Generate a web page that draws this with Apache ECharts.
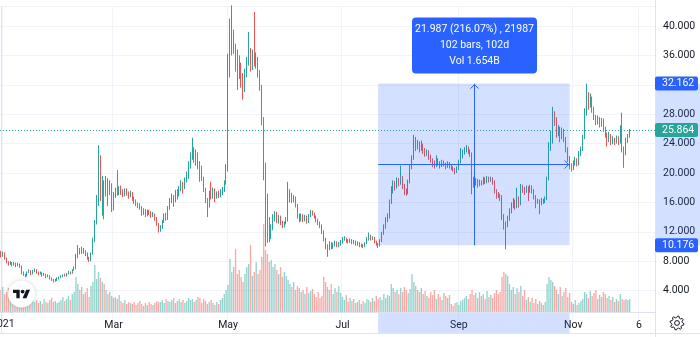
<!DOCTYPE html>
<html><head><meta charset="utf-8">
<script src="https://cdn.jsdelivr.net/npm/echarts@6/dist/echarts.min.js"></script>
<style>html,body{margin:0;padding:0;background:#fff}#c{width:700px;height:337px}</style>
</head><body><div id="c"></div>
<script>
// ---- data ----
const firstDate = [2020, 11, 31];   // Dec 31 2020 (UTC y, m0, d)
const axisDays = 349;               // category slots on the time axis (through mid Dec 2021)
const firstOpen = 9.0;
const closes = [
8.8,9.1,8.4,7.9,7.6,7.8,7.5,7.7,7.4,7.6,
7.3,6.4,6.2,6.0,6.5,6.7,6.3,6.6,6.8,6.5,
6.3,6.4,6.1,6.2,5.9,6.0,5.7,5.5,5.3,5.4,
5.6,5.8,5.9,6.1,6.0,6.3,6.5,6.4,6.8,7.0,
8.6,9.4,9.2,9.6,9.3,9.0,8.4,8.1,9.0,10.8,
13.2,16.0,21.8,17.0,18.5,17.2,19.0,17.8,18.2,15.2,
17.0,17.6,17.2,17.8,17.4,17.0,17.6,17.3,16.9,17.2,
16.5,16.2,15.8,15.6,15.3,14.5,14.9,14.3,14.8,14.6,
14.2,14.4,13.8,13.0,12.2,12.6,13.4,14.2,13.8,15.2,
16.2,16.8,16.2,17.4,17.0,17.8,18.4,18.0,19.0,19.5,
21.0,22.0,23.0,22.2,22.5,21.0,20.6,19.2,17.8,16.2,
15.5,17.2,16.8,17.6,16.8,17.2,16.9,17.4,17.6,18.6,
20.4,35.4,36.8,38.1,37.0,36.0,35.2,34.4,33.0,31.8,
33.5,35.0,36.2,34.5,36.0,35.0,35.3,33.5,31.8,27.0,
19.5,16.5,13.5,11.5,12.6,13.8,14.4,13.5,14.0,13.2,
12.8,13.2,13.6,16.5,17.0,16.4,16.6,15.6,14.2,13.6,
14.2,13.6,14.0,13.4,14.2,14.7,14.5,14.0,13.6,13.2,
12.8,12.0,11.0,10.0,9.8,10.4,9.9,10.2,10.5,10.1,
10.3,10.6,11.0,11.1,10.8,10.6,10.9,10.5,10.7,10.3,
10.5,10.1,10.2,10.0,10.4,11.0,11.5,11.0,11.2,10.6,
10.3,10.18,10.8,11.8,12.6,13.6,14.0,16.0,17.7,18.5,
18.2,19.0,18.6,19.4,18.2,17.6,17.3,18.8,20.8,22.0,
24.1,23.6,24.0,23.3,23.8,23.0,22.6,22.9,22.2,21.8,
21.5,21.0,21.9,21.4,21.0,21.5,21.2,20.9,21.4,21.0,
20.7,20.5,20.3,20.6,21.5,22.2,22.8,23.0,23.4,23.0,
22.6,19.2,18.6,19.0,18.4,18.8,18.6,19.2,18.8,19.3,
19.0,19.2,18.9,17.6,17.2,17.0,16.8,14.0,12.8,12.9,
13.8,14.8,15.6,16.2,15.4,16.6,15.8,18.2,17.8,17.6,
18.0,17.5,18.1,17.6,16.8,16.1,16.2,15.9,16.3,16.1,
16.5,19.2,23.5,24.2,27.4,27.2,25.4,26.0,25.0,25.8,
24.6,23.2,22.0,21.0,20.6,21.4,21.8,21.2,22.6,23.2,
24.8,28.2,30.0,29.2,30.1,28.6,27.6,27.0,27.4,26.6,
27.2,26.0,25.2,24.6,25.0,24.2,24.6,24.3,24.8,24.2,
26.2,23.2,22.8,24.5,25.0,25.864
];
const highs = [
9.4,9.3,9.2,8.5,8.0,8.0,7.9,7.9,7.8,7.8,
7.7,7.4,6.6,6.3,6.6,6.9,6.8,6.8,7.0,6.9,
6.6,6.6,6.5,6.4,6.3,6.2,6.1,5.8,5.6,5.6,
5.8,5.9,6.1,6.2,6.3,6.4,6.7,6.6,6.9,7.3,
9.0,10.2,9.8,10.0,9.8,9.5,9.2,8.6,9.2,11.2,
13.6,17.0,23.8,22.4,19.6,19.0,19.6,19.3,19.0,18.6,
17.4,18.0,20.4,18.2,18.3,17.8,17.9,17.9,17.5,17.6,
17.4,16.8,16.4,16.0,15.9,15.5,15.2,15.1,15.0,15.0,
14.8,14.7,14.5,14.0,13.2,12.9,13.6,14.5,14.6,15.5,
16.6,17.2,17.0,17.7,17.8,18.2,19.0,18.8,19.4,20.2,
21.6,22.8,24.8,23.5,23.2,22.8,21.6,21.0,19.5,18.0,
16.6,17.6,18.8,18.0,17.9,17.5,17.6,17.8,18.1,19.0,
21.2,36.2,41.0,42.8,39.5,37.6,36.8,36.0,35.0,33.6,
34.2,35.8,39.2,37.0,36.8,41.9,36.4,35.8,34.0,32.0,
27.6,21.4,17.2,14.0,13.0,14.4,14.8,14.7,14.3,14.2,
13.5,13.4,14.0,18.8,17.8,17.3,17.0,16.8,15.8,14.5,
14.5,14.4,14.3,14.2,14.4,15.0,14.9,14.6,14.2,13.8,
13.4,13.0,12.2,11.2,10.3,10.7,10.6,10.5,10.8,10.7,
10.6,10.9,11.3,11.4,11.2,11.0,11.1,11.0,10.9,10.8,
10.7,10.6,10.4,10.3,10.6,11.3,11.9,11.6,11.4,11.3,
10.8,10.5,11.0,12.0,13.0,14.0,14.5,16.4,18.2,19.0,
18.9,19.4,19.3,21.0,19.6,18.5,17.9,19.1,21.2,22.4,
25.2,24.9,24.5,24.3,24.4,24.0,23.4,23.2,23.1,22.5,
22.0,21.7,22.4,22.0,21.6,21.8,21.7,21.4,21.6,21.5,
21.2,20.9,20.7,20.9,21.8,23.4,23.2,23.5,23.8,23.6,
23.2,22.8,19.5,19.3,19.2,19.1,19.0,19.5,19.4,19.6,
19.5,19.5,19.4,19.0,17.8,17.4,17.2,17.0,14.4,13.4,
14.2,15.2,16.0,16.6,16.4,18.0,16.8,18.5,18.4,18.1,
18.3,18.2,18.4,18.3,17.8,17.0,16.5,16.4,16.6,16.5,
16.8,19.5,24.2,25.8,29.0,28.4,27.6,26.5,26.3,26.2,
26.0,24.9,23.5,22.3,21.3,21.7,22.2,22.0,23.0,23.6,
25.2,28.8,32.16,31.0,30.8,30.4,29.0,27.9,27.8,27.6,
27.5,27.4,26.3,25.5,25.6,25.3,25.0,24.8,25.1,25.0,
26.5,28.2,23.6,24.8,25.3,26.0
];
const lows = [
8.5,8.6,8.2,7.7,7.4,7.5,7.3,7.4,7.2,7.3,
7.1,6.2,6.0,5.8,5.9,6.4,6.1,6.2,6.5,6.3,
6.1,6.2,5.9,6.0,5.7,5.8,5.5,5.3,5.1,5.2,
5.3,5.5,5.7,5.8,5.9,5.9,6.2,6.2,6.3,6.7,
6.9,8.4,8.9,9.0,9.0,8.7,8.2,7.9,8.0,8.9,
10.6,13.0,15.5,16.2,14.2,13.7,16.8,15.5,17.0,14.7,
14.9,16.6,16.9,17.0,17.0,16.7,16.8,16.9,16.5,16.7,
16.2,15.8,15.5,15.2,15.0,14.2,14.3,14.0,14.1,14.3,
13.9,14.0,13.5,12.8,11.9,12.0,12.4,13.2,13.5,13.6,
15.0,15.9,15.4,16.0,16.4,16.8,17.5,17.2,17.8,18.7,
19.2,20.6,21.8,21.4,21.0,20.5,18.8,18.9,17.4,15.9,
14.0,15.3,16.4,16.5,16.0,16.5,16.6,16.7,17.0,17.4,
18.4,20.2,33.0,36.0,36.2,33.8,31.3,32.8,31.6,30.0,
31.0,33.0,34.6,33.8,34.0,34.5,34.2,33.0,31.2,26.5,
19.0,10.0,10.5,10.6,11.0,12.2,13.4,13.2,13.1,12.9,
12.5,12.6,13.0,13.4,16.0,15.9,16.0,15.3,13.8,13.3,
13.4,13.3,13.4,13.1,13.2,14.0,14.2,13.8,13.3,12.9,
12.5,11.7,10.7,9.6,8.6,9.5,9.6,9.7,10.0,9.9,
9.9,10.1,10.4,10.8,10.5,10.4,10.5,10.3,10.3,10.1,
10.1,9.9,9.9,9.8,9.9,10.3,10.8,10.8,10.9,10.4,
10.1,9.8,10.0,10.6,11.6,12.4,13.3,13.8,15.8,17.2,
17.6,17.9,18.2,18.4,17.8,17.0,16.9,17.1,18.6,20.5,
21.8,23.0,23.2,22.8,23.0,22.6,22.2,22.3,21.8,21.4,
20.8,20.6,20.8,21.0,20.6,20.8,20.9,20.5,20.7,20.6,
20.4,20.2,19.8,20.0,20.4,21.3,22.0,22.5,22.8,22.6,
22.2,17.1,18.0,18.3,18.0,18.2,18.3,18.4,18.5,18.6,
18.7,18.8,18.4,17.2,16.5,16.6,16.2,13.6,12.3,9.6,
12.6,13.5,14.5,15.2,15.0,15.2,15.3,15.6,17.3,17.0,
17.3,16.2,17.3,17.2,16.4,15.2,15.8,14.4,15.6,15.8,
15.9,16.3,19.0,23.0,24.0,26.4,24.8,25.0,24.2,24.6,
24.2,22.8,21.5,20.5,20.2,20.4,21.0,20.9,21.0,22.3,
23.0,24.6,27.8,28.6,28.9,28.2,27.2,26.5,26.6,26.2,
26.3,25.6,24.8,23.6,24.2,23.8,23.9,23.8,24.0,23.8,
24.0,22.8,20.7,22.4,24.1,24.8
];
// volume, millions
const volumes = [
22,25,18,20,24,16,15,19,14,17,
20,22,16,12,14,18,11,13,10,12,
9,11,8,13,10,9,12,14,10,11,
9,10,12,15,11,13,16,12,18,20,
35,28,22,25,18,20,24,15,26,30,
47,33,40,34,30,28,22,18,20,16,
14,15,13,17,11,9,12,8,10,9,
8,10,7,9,11,8,6,9,7,10,
8,7,9,11,10,10,12,9,13,11,
10,12,14,9,11,13,10,12,9,11,
14,12,13,10,12,15,14,9,13,11,
8,10,12,9,7,10,8,12,14,18,
22,27,53,40,45,63,38,42,35,30,
38,45,48,67,36,40,50,38,42,55,
88,62,58,50,52,45,48,42,38,45,
35,40,36,32,28,25,30,22,26,24,
20,22,18,25,19,21,23,18,15,20,
14,16,35,30,25,22,28,18,24,20,
26,19,15,12,17,10,14,11,13,9,
10,12,8,11,9,13,12,10,14,11,
16,13,15,12,18,14,17,16,28,24,
20,22,18,24,20,25,22,19,23,38,
30,26,22,20,24,18,21,16,14,20,
17,22,13,18,15,12,19,16,14,17,
8,6,9,10,7,11,12,14,16,13,
18,22,17,19,14,20,16,18,13,21,
15,17,14,19,22,18,20,35,40,38,
36,28,22,25,18,24,20,26,16,22,
12,15,10,14,9,13,8,11,9,7,
10,28,35,32,30,26,22,18,25,16,
20,24,15,19,10,8,12,7,9,11,
13,20,18,14,21,16,19,22,13,17,
15,20,18,14,16,12,15,10,13,11,
18,13,12,13,12,13
];
const tickDates = ['2021-01-01','2021-03-01','2021-05-01','2021-07-01','2021-09-01','2021-11-01','2021-12-06'];
const tickLabels = ['2021','Mar','May','Jul','Sep','Nov','6'];
const priceTicks = [4,8,12,16,20,24,28,32,36,40];
const priceMax = 42.72;
const volumeMax = 306;
const lastPrice = 25.864;
const rangeLow = 10.176, rangeHigh = 32.162;
const rangeStart = '2021-07-20', rangeEnd = '2021-10-30';
const rangeLines = ['21.987 (216.07%) , 21987', '102 bars, 102d', 'Vol 1.654B'];

// ---- build ----
const dates = [];
for (let i = 0; i < axisDays; i++) {
  const d = new Date(Date.UTC(firstDate[0], firstDate[1], firstDate[2] + i));
  dates.push(d.toISOString().slice(0, 10));
}
const opens = closes.map((c, i) => i === 0 ? firstOpen : closes[i - 1]);
const candleData = closes.map((c, i) => [opens[i], c, lows[i], highs[i]]);
const UP = '#26a69a', DOWN = '#ef5350', BLUE = '#2962ff';
const volData = volumes.map((v, i) => ({
  value: v,
  itemStyle: { color: closes[i] >= opens[i] ? 'rgba(38,166,154,0.5)' : 'rgba(239,83,80,0.5)' }
}));
const tickSet = new Set(tickDates);
const labelMap = {};
tickDates.forEach((d, i) => labelMap[d] = tickLabels[i]);
const edgeLabelDate = tickDates[0];   // drawn separately so it can be clipped by the page edge
const FONT = 'Roboto, "Liberation Sans", sans-serif';

const chart = echarts.init(document.getElementById('c'), null, { renderer: 'canvas' });
chart.setOption({
  animation: false,
  backgroundColor: '#ffffff',
  textStyle: { fontFamily: FONT },
  grid: [
    { left: 0, right: 45, top: 6, bottom: 17 },
    { left: 0, right: 45, top: 6, bottom: 25 }
  ],
  xAxis: [
    { type: 'category', data: dates, gridIndex: 0, axisLine: { show: false }, axisTick: { show: false },
      axisLabel: { show: false },
      splitLine: { show: true, interval: (i, v) => tickSet.has(v), lineStyle: { color: '#f0f3fa', width: 1 } } },
    { type: 'category', data: dates, gridIndex: 1, axisLine: { show: true, lineStyle: { color: '#e0e3eb' } },
      axisTick: { show: false },
      axisLabel: { interval: (i, v) => tickSet.has(v) && v !== edgeLabelDate,
        formatter: v => labelMap[v] || '', color: '#131722',
        fontSize: 10.5, margin: 8, fontFamily: FONT },
      splitLine: { show: false } }
  ],
  yAxis: [
    { type: 'value', gridIndex: 0, position: 'right', min: 0, max: priceMax, interval: 4,
      axisLine: { show: false }, axisTick: { show: false },
      axisLabel: { formatter: v => priceTicks.indexOf(v) >= 0 ? v.toFixed(3) : '', color: '#131722',
        fontSize: 10.5, margin: 8, fontFamily: FONT },
      splitLine: { show: true, showMinLine: false, showMaxLine: true, lineStyle: { color: '#f0f3fa' } } },
    { type: 'value', gridIndex: 1, min: 0, max: volumeMax, show: false, splitLine: { show: false } }
  ],
  series: [
    { type: 'bar', xAxisIndex: 1, yAxisIndex: 1, data: volData, barWidth: '70%', z: 1, silent: true },
    { type: 'candlestick', xAxisIndex: 0, yAxisIndex: 0, data: candleData, barWidth: '55%', z: 2,
      itemStyle: { color: UP, color0: DOWN, borderColor: UP, borderColor0: DOWN, borderWidth: 1 },
      markLine: { symbol: 'none', silent: true, label: { show: false },
        lineStyle: { color: '#26a69a', type: [1, 2], width: 1 }, data: [{ yAxis: lastPrice }] } }
  ]
});

// ---- overlays positioned through the axes ----
const px = v => chart.convertToPixel({ xAxisIndex: 0 }, dates.indexOf(v));
const py = v => chart.convertToPixel({ yAxisIndex: 0 }, v);
const x0 = px(rangeStart), x1 = px(rangeEnd);
const yTop = py(rangeHigh), yBot = py(rangeLow), yMid = Math.round(py((rangeHigh + rangeLow) / 2)) + 0.5;
const xm = Math.round((x0 + x1) / 2) + 0.5;
const axisX = 655;
const W = 700, H = 337;
const fill = 'rgba(41,98,255,0.2)';

function priceTag(v, bg) {
  const y = py(v);
  return [
    { type: 'rect', shape: { x: axisX, y: y - 7, width: 43, height: 14, r: 2 }, style: { fill: bg }, z: 120 },
    { type: 'text', x: axisX + 7, y: y, style: { text: v.toFixed(3), fill: '#ffffff', font: '10.5px ' + FONT,
      textVerticalAlign: 'middle', verticalAlign: 'middle' }, z: 121 }
  ];
}
// gear icon outline
const gearPts = [];
const gx = 677, gy = 323, teeth = 8, steps = teeth * 4;
for (let k = 0; k < steps; k++) {
  const a = (k + 0.5) / steps * Math.PI * 2 - Math.PI / 2;
  const rr = (k % 4 === 0 || k % 4 === 1) ? 7 : 5.3;
  gearPts.push([gx + rr * Math.cos(a), gy + rr * Math.sin(a)]);
}
// TradingView logo (36x28 box)
const LS = 0.48, LX = 21.5 - 17.75 * LS, LY = 294 - 13 * LS;
const lp = pts => pts.map(p => [LX + p[0] * LS, LY + p[1] * LS]);

const tipW = 125, tipH = 56;
const tipY = yTop - 10 - tipH;
const elements = [
  // frame lines
  { type: 'line', shape: { x1: axisX + 0.5, y1: 0, x2: axisX + 0.5, y2: H }, style: { stroke: '#e0e3eb', lineWidth: 1 }, z: 90 },
  { type: 'line', shape: { x1: 1.5, y1: 6, x2: 1.5, y2: H - 4 }, style: { stroke: '#e0e3eb', lineWidth: 1 }, z: 90 },
  { type: 'line', shape: { x1: 0, y1: H - 3.5, x2: W, y2: H - 3.5 }, style: { stroke: '#e0e3eb', lineWidth: 1 }, z: 90 },
  // first time label, clipped by the page edge
  { type: 'text', x: px(edgeLabelDate), y: 324, style: { text: labelMap[edgeLabelDate], fill: '#131722',
    font: '10.5px ' + FONT, textAlign: 'center', align: 'center', textVerticalAlign: 'middle', verticalAlign: 'middle' }, z: 95 },
  // range box
  { type: 'rect', shape: { x: x0, y: yTop, width: x1 - x0, height: yBot - yTop }, style: { fill: fill }, z: 100 },
  { type: 'line', shape: { x1: xm, y1: yTop, x2: xm, y2: yBot }, style: { stroke: BLUE, lineWidth: 1 }, z: 101 },
  { type: 'polyline', shape: { points: [[xm - 4, yTop + 5], [xm, yTop + 1], [xm + 4, yTop + 5]] }, style: { stroke: BLUE, lineWidth: 1, fill: null }, z: 101 },
  { type: 'line', shape: { x1: x0, y1: yMid, x2: x1, y2: yMid }, style: { stroke: BLUE, lineWidth: 1 }, z: 101 },
  { type: 'polyline', shape: { points: [[x1 - 5, yMid - 4], [x1 - 1, yMid], [x1 - 5, yMid + 4]] }, style: { stroke: BLUE, lineWidth: 1, fill: null }, z: 101 },
  // axis bands
  { type: 'rect', shape: { x: axisX + 1, y: yTop, width: W - axisX - 1, height: yBot - yTop }, style: { fill: fill }, z: 100 },
  { type: 'rect', shape: { x: x0, y: 313, width: x1 - x0, height: H - 4 - 313 }, style: { fill: fill }, z: 100 },
  // tooltip
  { type: 'rect', shape: { x: xm - tipW / 2, y: tipY, width: tipW, height: tipH, r: 4 }, style: { fill: BLUE }, z: 110 },
  ...rangeLines.map((t, i) => ({ type: 'text', x: xm, y: tipY + 12 + i * 16,
    style: { text: t, fill: '#ffffff', font: '10.5px ' + FONT, textAlign: 'center', align: 'center',
      textVerticalAlign: 'middle', verticalAlign: 'middle' }, z: 111 })),
  ...priceTag(rangeHigh, BLUE),
  ...priceTag(lastPrice, UP),
  ...priceTag(rangeLow, BLUE),
  // TradingView logo
  { type: 'circle', shape: { cx: 21.5, cy: 294, r: 13.5 }, style: { fill: '#ffffff', shadowBlur: 4, shadowColor: 'rgba(0,0,0,0.18)' }, z: 130 },
  { type: 'polygon', shape: { points: lp([[14,22],[7,22],[7,11],[0,11],[0,4],[14,4]]) }, style: { fill: '#131722' }, z: 131 },
  { type: 'polygon', shape: { points: lp([[28,22],[20,22],[27.5,4],[35.5,4]]) }, style: { fill: '#131722' }, z: 131 },
  { type: 'circle', shape: { cx: LX + 20 * LS, cy: LY + 8 * LS, r: 4 * LS }, style: { fill: '#131722' }, z: 131 },
  // gear
  { type: 'polygon', shape: { points: gearPts }, style: { fill: null, stroke: '#131722', lineWidth: 1 }, z: 130 },
  { type: 'circle', shape: { cx: gx, cy: gy, r: 2.4 }, style: { fill: null, stroke: '#131722', lineWidth: 1 }, z: 130 }
];
chart.setOption({ graphic: { elements: elements } });
</script>
</body></html>
